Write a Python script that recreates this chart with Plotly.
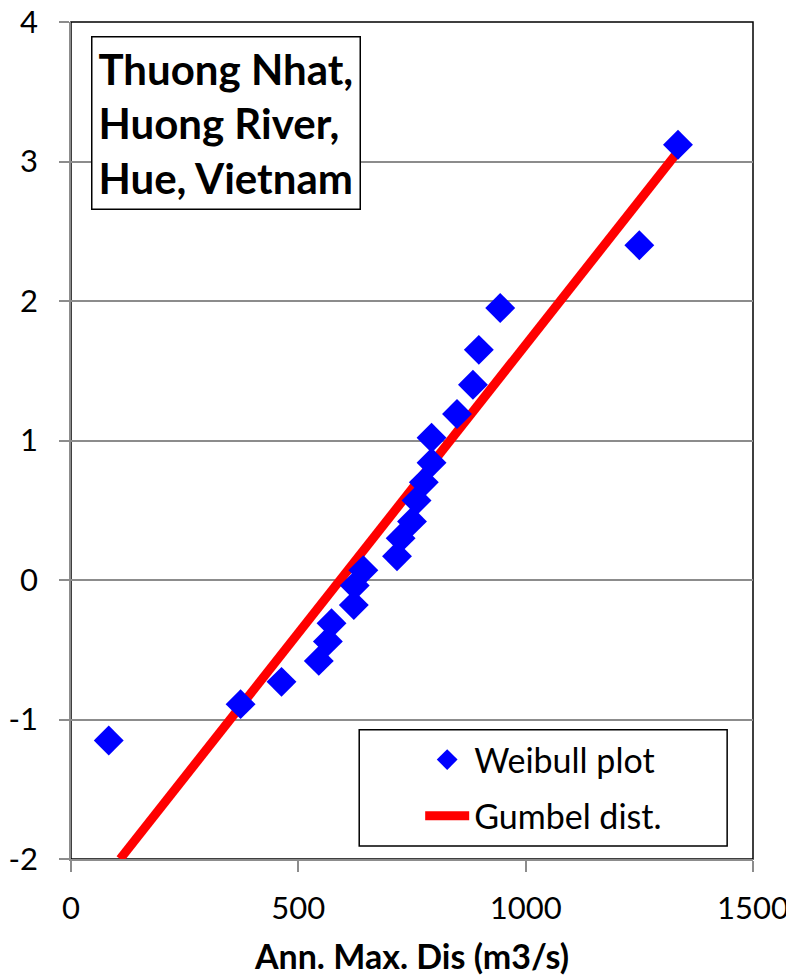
import plotly.graph_objects as go

# Weibull plotting positions (annual max discharge vs reduced variate)
weibull_x = [83, 373, 463, 545, 565, 573, 622, 624, 643, 717, 725, 750, 760, 776,
             793, 793, 849, 884, 897, 944, 1250, 1335]
weibull_y = [-1.15, -0.89, -0.73, -0.58, -0.44, -0.31, -0.18, -0.04, 0.07, 0.17,
             0.30, 0.42, 0.57, 0.70, 0.84, 1.02, 1.19, 1.40, 1.65, 1.95, 2.40, 3.12]

# Gumbel distribution fitted line (end points)
gumbel_x = [108, 1330]
gumbel_y = [-2.0, 3.05]

x_ticks = [0, 500, 1000, 1500]
x_ticktext = ["0", "500", "1000", "1500"]
y_ticks = [-2, -1, 0, 1, 2, 3, 4]
y_ticktext = ["-2", "-1", "0", "1", "2", "3", "4"]

FONT = "Lato, Carlito, 'Open Sans', sans-serif"

fig = go.Figure()
fig.add_trace(go.Scatter(
    x=gumbel_x, y=gumbel_y, mode="lines", name="Gumbel dist.",
    legendgroup="b", legendrank=2,
    line=dict(color="#FF0000", width=9),
))
fig.add_trace(go.Scatter(
    x=weibull_x, y=weibull_y, mode="markers", name="Weibull plot",
    legendgroup="a", legendrank=1,
    marker=dict(symbol="diamond", size=23, color="#0000FF", line=dict(width=0)),
))

# page has an 8px body margin, so the figure is sized to fit inside 794x976
fig.update_layout(
    width=786, height=968,
    margin=dict(l=63, r=41, t=14, b=117),
    paper_bgcolor="white", plot_bgcolor="white",
    font=dict(family=FONT, size=30, color="black"),
    legend=dict(
        x=0.512, y=0.153, xanchor="left", yanchor="top",
        borderwidth=0, bgcolor="rgba(0,0,0,0)",
        font=dict(size=34, family=FONT),
        traceorder="grouped", tracegroupgap=9,
        itemwidth=44,
    ),
    xaxis=dict(
        range=[0, 1500], tickvals=x_ticks, ticktext=x_ticktext,
        showgrid=False, zeroline=False, automargin=False,
        showline=True, linecolor="#8c8c8c", linewidth=1.5,
        ticks="outside", ticklen=11, tickcolor="#8c8c8c", tickwidth=1.5,
        ticklabelstandoff=10, ticklabeloverflow="allow",
        tickfont=dict(size=31, family=FONT),
        title=dict(text="<b>Ann. Max. Dis (m3/s)</b>", font=dict(size=34, family=FONT), standoff=35),
    ),
    yaxis=dict(
        range=[-2, 4], tickvals=y_ticks, ticktext=y_ticktext,
        showgrid=True, gridcolor="#8c8c8c", gridwidth=1.5,
        zeroline=False, automargin=False,
        showline=True, linecolor="#8c8c8c", linewidth=1.5,
        ticks="outside", ticklen=10, tickcolor="#8c8c8c", tickwidth=1.5,
        ticklabelstandoff=15, ticklabeloverflow="allow",
        tickfont=dict(size=31, family=FONT),
    ),
    shapes=[
        dict(type="rect", xref="paper", yref="paper", x0=0, y0=0, x1=1, y1=1,
             line=dict(color="black", width=1.5), layer="below"),
        dict(type="rect", xref="paper", yref="paper", x0=0.4226, y0=0.0155, x1=0.9621, y1=0.1543,
             line=dict(color="black", width=1.5), fillcolor="white", layer="above"),
    ],
    annotations=[dict(
        xref="paper", yref="paper", x=0.030, y=0.983, xanchor="left", yanchor="top",
        text="<b>Thuong Nhat,<br>Huong River,<br>Hue, Vietnam</b>",
        showarrow=False, align="left", bgcolor="white",
        bordercolor="black", borderwidth=1.5, borderpad=6,
        font=dict(size=42, family=FONT, color="black"),
    )],
)

fig.write_html("out.html")
